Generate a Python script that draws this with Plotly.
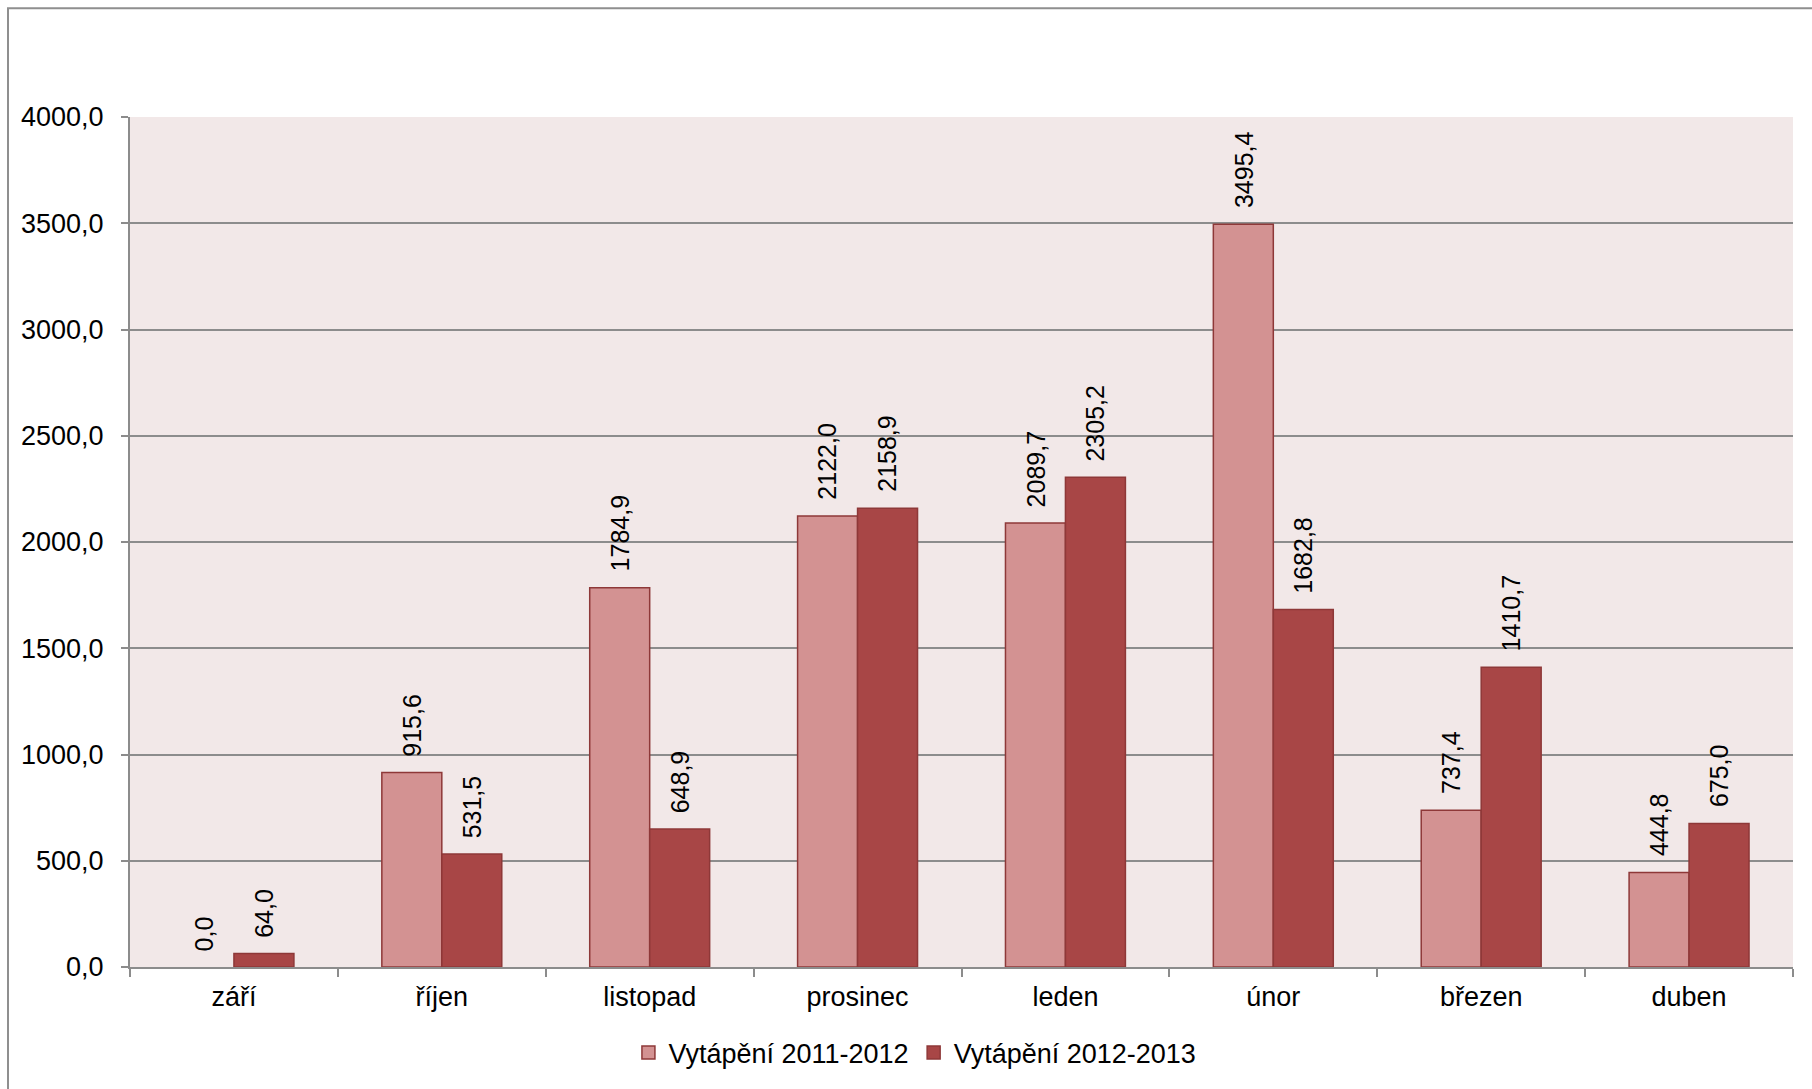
import plotly.graph_objects as go

# Monthly heating consumption, two heating seasons
months = ["září", "říjen", "listopad", "prosinec", "leden", "únor", "březen", "duben"]
season_2011_2012 = [0.0, 915.6, 1784.9, 2122.0, 2089.7, 3495.4, 737.4, 444.8]
season_2012_2013 = [64.0, 531.5, 648.9, 2158.9, 2305.2, 1682.8, 1410.7, 675.0]
series_names = ["Vytápění 2011-2012", "Vytápění 2012-2013"]

y_ticks = [0, 500, 1000, 1500, 2000, 2500, 3000, 3500, 4000]

FONT = "Liberation Sans, Arial, sans-serif"
LIGHT = "#D39292"
DARK = "#A84646"
EDGE = "#8E3838"
GRID = "#8C8C8C"

W, H = 1812, 1089
M_L, M_R, M_T, M_B = 130, 19, 117, 120
plot_w = W - M_L - M_R
plot_h = H - M_T - M_B
BARGAP = 0.423
bar_px = plot_w / len(months) * (1 - BARGAP) / 2


def fmt(v):
    return f"{v:.1f}".replace(".", ",")


fig = go.Figure()
series = [(series_names[0], season_2011_2012, LIGHT),
          (series_names[1], season_2012_2013, DARK)]
for name, vals, col in series:
    # no outline on empty bars, so a zero value leaves no stray line
    edge_w = [1.5 if v > 0 else 0 for v in vals]
    fig.add_trace(go.Bar(
        x=months, y=vals, name=name, legendgroup=name, showlegend=False,
        marker=dict(color=col, line=dict(color=EDGE, width=edge_w)),
        hoverinfo="skip",
    ))

# Legend keys: outlined squares in the series colours
for name, vals, col in series:
    fig.add_trace(go.Scatter(
        x=[None], y=[None], name=name, legendgroup=name, mode="markers",
        marker=dict(symbol="square", size=13, color=col, line=dict(color=EDGE, width=1.5)),
        hoverinfo="skip",
    ))

# Rotated value labels above each bar
annotations = []
for vals, shift in [(season_2011_2012, -bar_px / 2), (season_2012_2013, bar_px / 2)]:
    for m, v in zip(months, vals):
        annotations.append(dict(
            x=m, y=v, xref="x", yref="y", text=fmt(v), showarrow=False,
            textangle=-90, xanchor="center", yanchor="bottom",
            xshift=shift, yshift=14,
            font=dict(family=FONT, size=25, color="#000000"),
        ))

# Outer frame of the chart area
x0 = (8 - M_L) / plot_w
y1 = (H - M_B - 8) / plot_h
shapes = [dict(type="rect", xref="paper", yref="paper",
               x0=x0, x1=1.2, y0=-0.3, y1=y1,
               line=dict(color="#8F8F8F", width=2), fillcolor="rgba(0,0,0,0)",
               layer="below")]

fig.update_layout(
    width=W, height=H,
    margin=dict(l=M_L, r=M_R, t=M_T, b=M_B),
    paper_bgcolor="#FFFFFF",
    plot_bgcolor="#F2E8E8",
    barmode="group", bargap=BARGAP, bargroupgap=0,
    separators=", ",
    font=dict(family=FONT, size=27, color="#000000"),
    showlegend=True,
    legend=dict(orientation="h", x=0.472, xanchor="center", y=-0.101, yanchor="middle",
                font=dict(family=FONT, size=27, color="#000000"),
                itemwidth=30, traceorder="normal", bgcolor="rgba(0,0,0,0)",
                itemclick=False, itemdoubleclick=False),
    annotations=annotations,
    shapes=shapes,
)
fig.update_xaxes(
    type="category", categoryorder="array", categoryarray=months,
    showgrid=False, showline=True, linecolor=GRID, linewidth=2,
    ticks="outside", tickson="boundaries", ticklen=8, tickcolor=GRID, tickwidth=2,
    ticklabelstandoff=5,
    tickfont=dict(family=FONT, size=27, color="#000000"),
)
fig.update_yaxes(
    range=[0, 4000], tickvals=y_ticks, tickformat=".1f",
    showgrid=True, gridcolor=GRID, gridwidth=2,
    showline=True, linecolor=GRID, linewidth=2,
    zeroline=False,
    ticks="outside", ticklen=7, tickcolor=GRID, tickwidth=2,
    ticklabelstandoff=12,
    tickfont=dict(family=FONT, size=27, color="#000000"),
)

fig.write_html("out.html")
